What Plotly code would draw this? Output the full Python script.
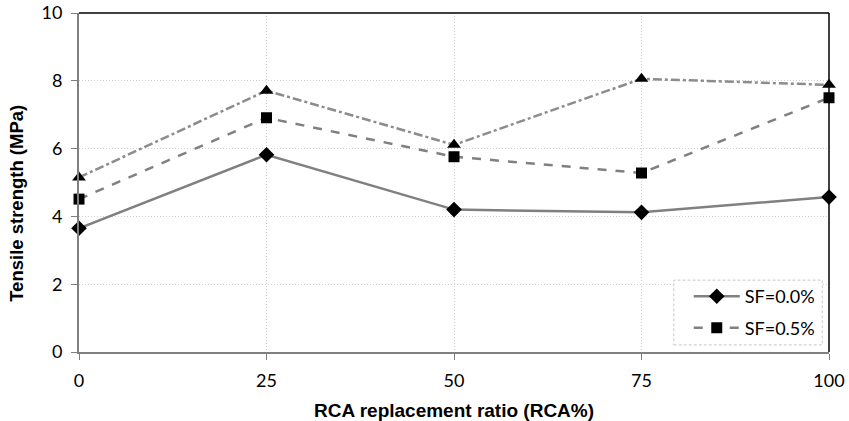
import plotly.graph_objects as go

rca = [0, 25, 50, 75, 100]
sf00 = [3.65, 5.82, 4.20, 4.12, 4.57]
sf05 = [4.51, 6.91, 5.76, 5.28, 7.50]
sf10 = [5.15, 7.71, 6.11, 8.06, 7.88]
x_ticks = [0, 25, 50, 75, 100]
y_ticks = [0, 2, 4, 6, 8, 10]

fig = go.Figure()
fig.add_trace(go.Scatter(
    x=rca, y=sf10, mode="lines+markers", name="SF=1.0%", showlegend=False,
    line=dict(color="#8c8c8c", width=2.5, dash="dashdot"),
    marker=dict(symbol="triangle-up", size=12, color="black"),
    cliponaxis=False))
fig.add_trace(go.Scatter(
    x=rca, y=sf00, mode="lines+markers", name="SF=0.0%", legendgroup="a",
    line=dict(color="#808080", width=2.5),
    marker=dict(symbol="diamond", size=12, color="black"),
    cliponaxis=False))
fig.add_trace(go.Scatter(
    x=rca, y=sf05, mode="lines+markers", name="SF=0.5%", legendgroup="b",
    line=dict(color="#808080", width=2.5, dash="dash"),
    marker=dict(symbol="square", size=11, color="black"),
    cliponaxis=False))

font_tick = dict(family="Lato, Carlito, Calibri, sans-serif", size=18, color="black")

fig.update_layout(
    width=849, height=421,
    margin=dict(l=79, r=20, t=13, b=69),
    paper_bgcolor="white", plot_bgcolor="white",
    xaxis=dict(
        range=[0, 100], tickvals=x_ticks, ticktext=[str(v) for v in x_ticks],
        tickfont=font_tick, showgrid=True, gridcolor="#cfcfcf", griddash="1px,2px",
        gridwidth=1, zeroline=False, showline=True, linecolor="#7f7f7f", linewidth=2,
        ticks="outside", ticklen=6, tickcolor="#7f7f7f", tickwidth=1, automargin=False,
        ticklabelstandoff=5,
        title=dict(text="<b>RCA replacement ratio (RCA%)</b>",
                   font=dict(family="Liberation Sans Narrow, Arial Narrow, Arial, sans-serif", size=19, color="black")),
    ),
    yaxis=dict(
        range=[0, 10], tickvals=y_ticks, ticktext=[str(v) for v in y_ticks],
        tickfont=font_tick, showgrid=True, gridcolor="#cfcfcf", griddash="1px,2px",
        gridwidth=1, zeroline=False, showline=True, linecolor="#7f7f7f", linewidth=2,
        ticks="outside", ticklen=6, tickcolor="#7f7f7f", tickwidth=1, automargin=False,
        ticklabelstandoff=5,
    ),
    annotations=[
        dict(text="<b>Tensile strength (MPa)</b>", textangle=-90, showarrow=False,
             xref="paper", yref="paper", x=-0.0827, y=0.44, xanchor="center", yanchor="middle",
             font=dict(family="Liberation Sans, Arial, sans-serif", size=18.5, color="black")),
    ],
    legend=dict(
        x=0.813, y=0.218, xanchor="left", yanchor="top",
        bgcolor="rgba(0,0,0,0)", borderwidth=0,
        font=dict(family="Lato, Carlito, Calibri, sans-serif", size=18, color="black"),
        traceorder="grouped", tracegroupgap=5, itemwidth=46,
    ),
    shapes=[
        dict(type="line", xref="paper", yref="paper", x0=0, x1=1, y0=1, y1=1,
             line=dict(color="black", width=1.5), layer="above"),
        dict(type="line", xref="paper", yref="paper", x0=1, x1=1, y0=0, y1=1,
             line=dict(color="black", width=1.5), layer="above"),
        dict(type="rect", xref="paper", yref="paper", x0=0.793, x1=0.991, y0=0.021, y1=0.212,
             fillcolor="white", line=dict(color="#c8c8c8", width=1, dash="3px,2px"), layer="above"),
    ],
)

fig.write_html("out.html", post_script="document.body.style.margin='0';",
               config={"displayModeBar": False})
